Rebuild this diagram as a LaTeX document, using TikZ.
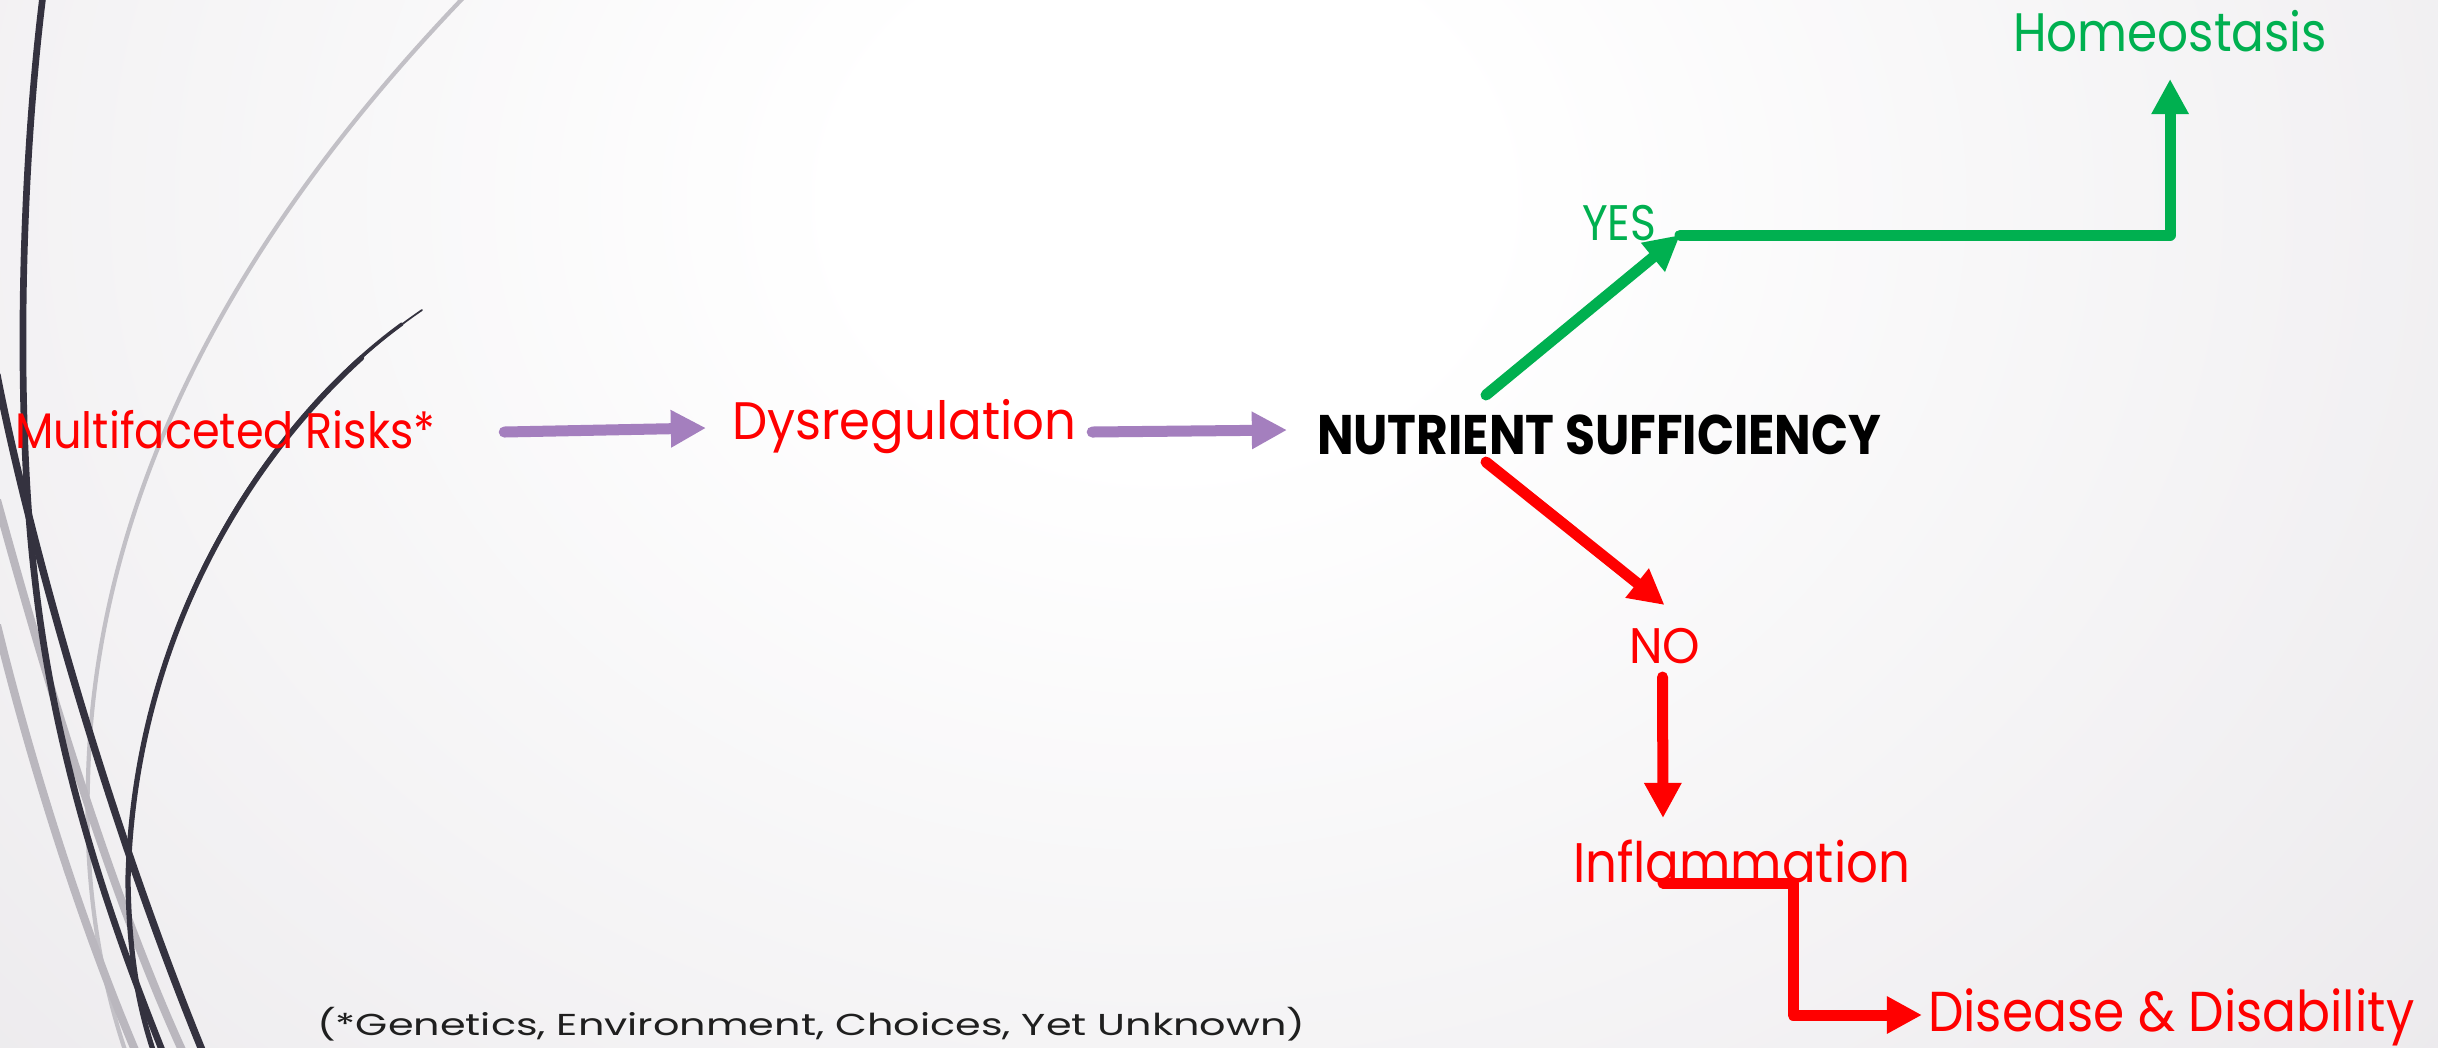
\documentclass[tikz,border=0pt]{standalone}
\usepackage{fontspec}
\setmainfont{Poppins}
\usepackage{graphicx}
\usetikzlibrary{arrows.meta,calc}
\definecolor{bgc}{RGB}{214,210,216}
\definecolor{rd}{RGB}{255,0,0}
\definecolor{gr}{RGB}{0,176,80}
\definecolor{pu}{RGB}{164,127,190}
\definecolor{dk}{RGB}{52,50,63}
\definecolor{lg}{RGB}{194,192,198}
\definecolor{mg}{RGB}{186,183,190}
\pgfdeclareradialshading{bgsh}{\pgfpoint{0bp}{0bp}}{color(0bp)=(white); color(5bp)=(white); color(50bp)=(bgc)}
\newbox\fitbox
\newdimen\fitw
\newcommand\fit[3]{%
  \setbox\fitbox=\hbox{\fontsize{#2pt}{#2pt}\selectfont #3}%
  \fitw=\wd\fitbox
  \pgfmathsetmacro\fitsc{#1*0.284528/\fitw}%
  \scalebox{\fitsc}[1]{\box\fitbox}}
\tikzset{
  lbl/.style={anchor=base west, inner sep=0pt, outer sep=0pt},
  con/.style={line width=3.13pt, line cap=round, line join=round, -{Triangle[length=10pt,width=10pt]}},
  parr/.style={con, draw=pu},
  garr/.style={con, draw=gr},
  rarr/.style={con, draw=rd},
  dkline/.style={draw=dk, line cap=round},
}
\begin{document}
\begin{tikzpicture}[x=0.01cm, y=-0.01cm]
\useasboundingbox (0,0) rectangle (2438,1047);
% background
\begin{scope}
\clip (0,0) rectangle (2438,1047);
\fill[bgc] (0,0) rectangle (2438,1047);
\shade[shading=bgsh] (-434,-1100) rectangle (2766,1500);
% decorative curves
\draw[lg, line width=1.2pt] (463,-2) .. controls (260,210) and (95,470) .. (88,780) .. controls (84,900) and (105,990) .. (125,1050);
\draw[mg, line width=2.3pt] (-3,500) .. controls (30,620) and (100,870) .. (182,1050);
\draw[mg, line width=2.3pt] (-3,625) .. controls (30,760) and (80,920) .. (135,1050);
\draw[dkline, line width=1.9pt] (43,-5) .. controls (20,180) and (16,420) .. (35,580) .. controls (55,760) and (110,920) .. (162,1050);
\draw[dkline, line width=2.1pt] (-3,375) .. controls (25,520) and (100,800) .. (202,1050);
\draw[dkline, line width=0.5pt] (422,310) .. controls (290,400) and (135,600) .. (128,880);
\draw[dkline, line width=1.0pt] (402,324) .. controls (270,420) and (134,620) .. (128,880);
\draw[dkline, line width=1.5pt] (361.6,357.8) .. controls (246.8,461.8) and (133.95,642) .. (128,880) .. controls (129,960) and (140,1010) .. (153,1050);
\end{scope}
% text nodes
\node[lbl, text=rd] (multi) at (15,448) {\fit{420}{14.2}{Multifaceted Risks*}};
\node[lbl, text=rd] (dys) at (732,439) {\fit{344}{15.0}{Dysregulation}};
\node[lbl, text=black] (nut) at (1317,454) {\fit{564}{15.85}{\bfseries NUTRIENT SUFFICIENCY}};
\node[lbl, text=gr] (yes) at (1582,240) {\fit{74}{14.2}{YES}};
\node[lbl, text=gr] (homeo) at (2013,51) {\fit{314}{15.4}{Homeostasis}};
\node[lbl, text=rd] (no) at (1629,663) {\fit{71}{14.2}{NO}};
\node[lbl, text=rd] (infl) at (1573,882) {\fit{337}{15.85}{Inflammation}};
\node[lbl, text=rd] (dis) at (1928,1031) {\fit{486}{16.0}{Disease \& Disability}};
\node[lbl, text=black!88] (note) at (317,1035) {\fit{988}{8.6}{(*Genetics, Environment, Choices, Yet Unknown)}};
% connectors
\draw[parr] ([shift={(69,-16)}]multi.base east) -- ([shift={(-26,-11)}]dys.base west);
\draw[parr] ([shift={(16,-7)}]dys.base east) -- ([shift={(-30,-24)}]nut.base west);
\coordinate (gk) at ([shift={(24,-5)}]yes.base east);
\draw[garr] ([shift={(169,-59)}]nut.base west) -- (gk);
\draw[garr] (gk) -| ([shift={(0,28)}]homeo.base);
\draw[rarr] ([shift={(169,8)}]nut.base west) -- ([shift={(0,-58)}]no.base);
\draw[rarr] ([shift={(-2,14)}]no.base) -- ([shift={(90,-64)}]infl.base west);
\draw[rarr] ([shift={(90,1)}]infl.base west) -| ([shift={(-135,-16)}]dis.base west) -- ([shift={(-6,-16)}]dis.base west);
\end{tikzpicture}
\end{document}
